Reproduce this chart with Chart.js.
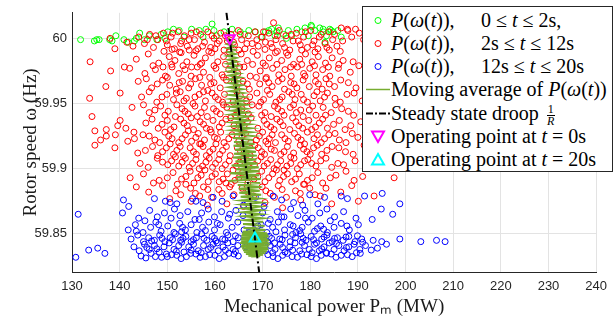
<!DOCTYPE html>
<html>
<head>
<meta charset="utf-8">
<script src="https://cdn.jsdelivr.net/npm/chart.js@4"></script>
<style>
body{margin:0;background:#fff;}
#wrap{position:relative;width:614px;height:322px;}
#legend{position:absolute;left:362px;top:6px;width:249px;height:164px;border:1px solid #262626;background:#fff;font-family:"Liberation Serif",serif;font-size:20px;color:#000;}
#legend .row{position:absolute;left:0;height:23px;line-height:23px;white-space:nowrap;}
#legend svg{position:absolute;left:2px;top:0;}
#legend .txt{position:absolute;left:28px;top:0;}
#legend .col2{position:absolute;left:118px;top:0;}
.frac{display:inline-block;vertical-align:middle;text-align:center;font-size:12px;line-height:11px;margin-left:3px;}
.frac span{display:block;}
.frac .num{border-bottom:1px solid #000;padding:0 1px;}
</style>
</head>
<body>
<div id="wrap">
<canvas id="c" width="614" height="322"></canvas>
<div id="legend"></div>
</div>
<script>
// tick values
let xTicks=[130,140,150,160,170,180,190,200,210,220,230,240];
let yTicks=[59.85,59.9,59.95,60];

// P(w(t)) 0<=t<=2s
let greenPts=[[131.8,59.999],[135.2,59.999],[134.7,59.998],[135.7,59.999],[139.2,60.002],[137.9,59.999],[138.4,59.998],
[140.9,59.999],[141.8,59.997],[143.1,59.998],[143.5,60.0],[144.2,60.004],[145.2,59.999],[146.2,60.002],
[147.8,59.999],[148.7,60.003],[150.1,60.005],[151.3,60.007],[152.5,60.006],[153.5,60.001],[155.1,60.007],[156.7,60.006],
[158.1,60.007],[159.4,60.011],[159.8,60.006],[161.9,60.005],[163.6,60.007],[165.3,60.005],[167.1,60.006],[168.5,60.005],
[170.6,60.005],[171.9,60.007],[172.6,60.002],[171.3,60.006],[173.0,60.005],[173.3,60.008],[174.4,60.003],[175.4,60.006],
[176.1,60.002],[177.2,60.007],[178.2,60.005],[178.9,60.008],[179.6,60.002],[180.3,60.009],[181.0,60.006],[182.0,60.008],
[182.7,60.005],[183.4,60.002],[184.1,60.007],[184.8,60.005],[185.8,60.006],[186.5,60.001],[183.1,59.997],[180.2,60.010],
[182.7,60.007],[184.4,60.006],[157.5,60.001],[160.3,60.002],[166.2,60.003],[169.7,60.001],[175.0,60.0],[149.5,60.0]];

// P(w(t)) 2s<=t<=12s
let redPts=[[141.5,59.997],[142.8,59.994],[144.0,60.001],[145.2,59.996],[146.3,60.003],[147.1,59.993],[148.0,59.999],[149.2,60.004],
[150.0,59.995],[150.8,60.001],[151.5,59.992],[152.3,60.005],[153.0,59.998],[153.6,60.002],[154.2,59.994],[155.0,60.004],
[155.7,59.999],[156.4,59.992],[157.0,60.003],[157.8,59.997],[158.5,60.005],[159.1,59.993],[159.8,60.0],[160.5,59.996],
[161.2,60.004],[161.9,59.991],[162.6,59.998],[163.4,60.003],[164.1,59.995],[164.9,60.006],[165.6,59.999],[166.3,59.992],
[167.0,60.002],[167.8,59.996],[168.4,60.005],[169.1,59.994],[169.9,60.001],[170.6,59.997],[171.3,60.004],[172.0,59.993],
[172.8,59.999],[173.5,60.006],[174.2,59.996],[174.9,60.002],[175.7,59.991],[176.4,59.998],[177.1,60.004],[177.9,59.995],
[178.6,60.001],[179.4,59.993],[180.1,60.006],[180.8,59.998],[181.6,59.992],[182.3,60.003],[183.1,59.996],[183.9,60.005],
[184.7,59.999],[185.6,59.994],[186.5,60.008],[187.9,60.006],[189.5,60.007],[191.2,59.999],[172.3,60.012],[187.8,60.007],
[145.8,59.999],[147.6,60.002],[149.8,59.998],[151.1,60.004],[152.8,59.996],[154.6,59.999],[156.1,60.005],[157.4,59.994],
[159.4,60.002],[160.9,59.998],[162.2,60.002],[163.9,59.997],[165.3,60.003],[166.7,59.996],[168.8,59.999],[170.2,60.005],
[171.7,59.996],[173.1,60.002],[174.6,59.993],[176.0,60.003],[177.5,59.998],[179.0,60.005],[180.5,59.995],[181.9,60.001],
[183.5,59.993],[185.1,60.003],[186.8,59.998],[188.7,60.001],[190.3,60.004],[139.0,59.992],[138.0,60.0],
[149.3,59.990],[151.0,59.9915],[152.6,59.9895],[154.6,59.991],[156.0,59.9905],[158.7,59.990],[160.0,59.992],[163.0,59.9895],
[165.0,59.991],[168.0,59.990],[170.5,59.9915],[173.1,59.990],[175.0,59.989],[178.2,59.991],[181.0,59.9895],[184.0,59.991],[186.3,59.990],
[143.5,59.984],[146.0,59.988],[148.2,59.981],[150.4,59.986],[151.6,59.983],[152.9,59.989],[154.1,59.982],[155.6,59.987],
[156.9,59.980],[158.0,59.985],[159.3,59.989],[160.6,59.982],[161.8,59.986],[164.2,59.981],[165.5,59.988],[166.8,59.983],
[168.9,59.987],[170.1,59.981],[171.4,59.985],[172.7,59.989],[174.0,59.983],[175.3,59.987],[176.5,59.980],[177.8,59.984],
[179.0,59.988],[180.4,59.982],[181.7,59.986],[183.2,59.981],[184.6,59.985],[186.9,59.983],[133.8,59.982],[141.0,59.978],
[147.0,59.979],[149.1,59.978],[150.9,59.980],[153.3,59.979],[155.1,59.978],[157.2,59.981],[159.8,59.979],[162.2,59.980],
[165.2,59.978],[167.9,59.980],[170.6,59.979],[173.0,59.980],[175.9,59.978],[178.2,59.980],[180.9,59.979],[183.8,59.978],
[186.0,59.980],[189.0,59.982],
[138.1,59.975],[142.1,59.977],[145.3,59.973],[147.5,59.976],[149.6,59.971],[151.0,59.978],[152.4,59.973],[153.7,59.976],
[155.0,59.971],[156.3,59.978],[157.6,59.974],[158.9,59.970],[160.2,59.977],[161.5,59.972],[162.9,59.976],[164.8,59.973],
[166.1,59.978],[167.4,59.971],[169.5,59.975],[170.8,59.970],[172.1,59.977],[173.4,59.972],[174.7,59.976],[176.0,59.971],
[177.3,59.978],[178.6,59.973],[179.9,59.977],[181.2,59.972],[182.6,59.976],[184.1,59.971],[185.9,59.977],[188.4,59.974],[190.2,59.979],
[145.6,59.969],[147.9,59.965],[150.0,59.970],[152.5,59.966],[154.9,59.965],[156.8,59.970],[159.1,59.965],[161.8,59.970],
[164.0,59.968],[166.8,59.965],[168.7,59.970],[171.3,59.966],[174.1,59.969],[176.6,59.965],[178.9,59.971],[181.7,59.965],
[183.3,59.969],[185.1,59.963],[188.0,59.966],
[137.1,59.963],[143.9,59.967],[146.7,59.962],[149.0,59.968],[150.5,59.964],[151.9,59.961],[153.2,59.967],[154.5,59.962],
[155.9,59.969],[157.2,59.964],[158.5,59.960],[159.8,59.966],[161.1,59.962],[162.4,59.968],[164.5,59.963],[165.9,59.967],
[167.2,59.961],[169.4,59.965],[170.7,59.969],[172.0,59.963],[173.3,59.967],[174.6,59.961],[175.9,59.966],[177.2,59.962],
[178.5,59.968],[179.8,59.963],[181.1,59.967],[182.5,59.961],[184.0,59.965],[186.4,59.968],[189.6,59.962],[191.8,59.966],
[146.2,59.959],[148.9,59.955],[151.9,59.958],[153.5,59.952],[155.8,59.955],[157.6,59.959],[160.1,59.955],[161.6,59.951],
[164.6,59.959],[167.3,59.955],[169.6,59.951],[171.0,59.960],[173.6,59.953],[176.2,59.957],[178.6,59.953],[181.4,59.959],
[183.0,59.955],[186.3,59.951],[189.2,59.958],
[133.7,59.954],[140.1,59.958],[144.6,59.955],[147.8,59.951],[149.9,59.957],[151.3,59.953],[152.7,59.959],[154.0,59.954],
[155.4,59.950],[156.7,59.957],[158.0,59.952],[159.4,59.958],[160.7,59.953],[162.0,59.957],[163.8,59.951],[165.3,59.956],
[166.6,59.952],[168.8,59.958],[170.2,59.953],[171.5,59.957],[172.8,59.951],[174.1,59.955],[175.5,59.959],[176.8,59.953],
[178.1,59.957],[179.4,59.951],[180.8,59.956],[182.1,59.952],[183.6,59.958],[185.2,59.954],[187.7,59.957],[190.9,59.952],[193.4,59.955],
[145.0,59.949],[147.4,59.945],[149.5,59.941],[152.0,59.949],[153.7,59.944],[156.3,59.940],[157.8,59.947],[160.3,59.944],
[161.8,59.949],[164.9,59.944],[167.8,59.949],[169.8,59.941],[172.5,59.948],[174.0,59.944],[176.5,59.949],[178.0,59.945],
[180.5,59.948],[183.2,59.941],[185.3,59.949],[188.0,59.944],
[134.2,59.940],[140.1,59.937],[142.6,59.947],[146.2,59.943],[148.6,59.948],[150.2,59.944],[151.7,59.940],[153.1,59.946],
[154.4,59.942],[155.8,59.948],[157.1,59.943],[158.4,59.940],[159.7,59.946],[161.1,59.942],[162.5,59.947],[164.3,59.941],
[165.7,59.946],[167.0,59.942],[169.2,59.948],[170.5,59.943],[171.8,59.940],[173.2,59.946],[174.5,59.941],[175.8,59.947],
[177.1,59.943],[178.5,59.940],[179.8,59.945],[181.2,59.941],[182.7,59.947],[184.4,59.943],[186.6,59.946],[189.1,59.941],[192.5,59.944],
[141.3,59.931],[146.8,59.938],[148.9,59.934],[150.7,59.930],[153.5,59.935],[155.0,59.939],[157.6,59.934],[159.0,59.930],
[161.5,59.935],[163.3,59.939],[166.1,59.933],[167.6,59.939],[170.9,59.934],[172.4,59.930],[173.7,59.936],[176.3,59.939],
[177.6,59.933],[180.3,59.930],[181.9,59.935],[183.6,59.931],[186.1,59.937],[188.5,59.933],
[134.8,59.929],[137.2,59.930],[139.6,59.933],[143.0,59.928],[145.5,59.935],[148.1,59.931],[150.0,59.937],[151.4,59.932],
[152.8,59.938],[154.2,59.933],[155.5,59.930],[156.9,59.936],[158.2,59.931],[159.6,59.937],[160.9,59.932],[162.3,59.938],
[164.0,59.933],[165.4,59.930],[166.8,59.936],[169.0,59.931],[170.3,59.937],[171.7,59.932],[173.0,59.938],[174.3,59.933],
[175.7,59.930],[177.0,59.936],[178.4,59.931],[179.7,59.937],[181.1,59.932],[182.6,59.938],[184.9,59.934],[187.3,59.930],
[190.6,59.936],[194.2,59.932],
[139.1,59.926],[143.1,59.923],[146.2,59.925],[148.4,59.920],[150.3,59.925],[153.1,59.923],[154.4,59.929],[156.0,59.924],
[157.1,59.919],[159.9,59.924],[161.2,59.928],[162.9,59.923],[165.7,59.925],[167.5,59.920],[169.3,59.925],[170.7,59.921],
[172.0,59.926],[174.7,59.923],[177.4,59.924],[178.8,59.919],[181.5,59.926],[183.0,59.923],[185.2,59.927],[187.5,59.920],[190.0,59.924],
[134.8,59.918],[136.0,59.922],[137.2,59.925],[141.7,59.921],[144.9,59.926],[147.4,59.922],[149.5,59.928],[151.0,59.923],
[152.4,59.920],[153.8,59.926],[155.1,59.921],[156.5,59.927],[157.8,59.922],[159.2,59.928],[160.5,59.923],[161.9,59.920],
[163.6,59.926],[165.0,59.921],[166.4,59.927],[168.7,59.922],[170.0,59.928],[171.4,59.923],[172.7,59.920],[174.0,59.926],
[175.4,59.921],[176.7,59.927],[178.1,59.922],[179.4,59.928],[180.8,59.923],[182.3,59.920],[183.9,59.926],[186.1,59.922],
[188.8,59.927],[192.0,59.921],
[145.4,59.914],[148.0,59.910],[149.8,59.916],[151.3,59.911],[152.7,59.917],[155.5,59.913],[156.8,59.919],[158.2,59.910],
[159.6,59.915],[161.0,59.911],[162.4,59.917],[165.4,59.913],[167.4,59.910],[169.1,59.916],[170.4,59.911],[171.8,59.915],
[174.5,59.913],[175.9,59.909],[178.6,59.915],[180.0,59.911],[181.5,59.918],[183.5,59.914],[186.0,59.916],[189.0,59.911],
[139.0,59.916],[143.8,59.912],[146.9,59.917],[149.0,59.913],[150.6,59.919],[152.0,59.914],[153.4,59.910],[154.8,59.916],
[156.1,59.911],[157.5,59.917],[158.9,59.913],[160.2,59.919],[161.6,59.914],[163.2,59.910],[164.7,59.916],[166.1,59.912],
[168.4,59.918],[169.8,59.913],[171.1,59.919],[172.5,59.914],[173.8,59.911],[175.2,59.917],[176.5,59.912],[177.9,59.918],
[179.3,59.913],[180.7,59.916],[182.4,59.911],[184.6,59.917],[187.4,59.913],[191.3,59.918],[195.6,59.914],
[146.0,59.901],[149.0,59.905],[150.9,59.906],[152.4,59.902],[153.8,59.908],[155.3,59.904],[156.7,59.900],[158.1,59.905],
[159.5,59.901],[160.8,59.907],[162.2,59.903],[163.8,59.899],[165.2,59.905],[167.0,59.901],[169.0,59.906],[170.3,59.902],
[171.7,59.907],[173.1,59.903],[174.5,59.899],[175.9,59.904],[177.3,59.900],[178.8,59.906],[180.3,59.904],[182.2,59.906],
[184.5,59.901],[187.0,59.903],
[144.3,59.904],[147.9,59.908],[150.1,59.903],[151.7,59.909],[153.1,59.905],[154.6,59.901],[156.0,59.907],[157.4,59.902],
[158.8,59.908],[160.1,59.904],[161.5,59.900],[163.0,59.906],[164.5,59.902],[166.0,59.908],[168.3,59.903],[169.7,59.909],
[171.0,59.904],[172.4,59.900],[173.8,59.906],[175.1,59.902],[176.6,59.908],[178.0,59.903],[179.5,59.907],[181.2,59.902],
[183.3,59.908],[185.8,59.904],[189.4,59.906],[193.7,59.901],
[147.1,59.889],[150.0,59.893],[152.1,59.888],[153.9,59.894],[155.6,59.889],[157.1,59.895],[158.6,59.890],[160.1,59.896],
[161.7,59.892],[163.4,59.888],[165.0,59.893],[166.9,59.889],[169.0,59.894],[170.5,59.890],[172.1,59.896],[173.6,59.891],
[175.2,59.896],[176.9,59.892],[178.6,59.888],[180.4,59.893],[182.6,59.889],[185.4,59.895],[189.2,59.891],
[142.2,59.893],[145.0,59.896],[148.3,59.891],[151.2,59.897],[153.0,59.892],[154.8,59.898],[156.4,59.893],[157.9,59.899],
[159.4,59.894],[160.9,59.890],[162.6,59.896],[164.2,59.891],[165.8,59.897],[168.2,59.892],[169.8,59.898],[171.3,59.893],
[172.9,59.899],[174.4,59.894],[176.1,59.890],[177.7,59.896],[179.4,59.891],[181.6,59.897],[184.2,59.893],[187.5,59.898],
[191.0,59.894],[197.6,59.893],
[152.8,59.880],[154.9,59.885],[156.8,59.879],[158.5,59.884],[161.5,59.881],[163.1,59.886],[166.9,59.882],[170.7,59.883],
[172.5,59.878],[174.1,59.884],[177.9,59.881],[179.9,59.885],[182.1,59.879],
[143.5,59.886],[146.1,59.882],[149.0,59.887],[151.8,59.883],[153.9,59.888],[155.9,59.881],[157.6,59.886],[159.3,59.878],
[160.8,59.884],[162.3,59.889],[164.0,59.880],[165.7,59.885],[168.1,59.879],[169.9,59.886],[171.6,59.881],[173.3,59.887],
[175.0,59.878],[176.9,59.883],[178.8,59.888],[181.0,59.880],[183.3,59.885],[186.4,59.882],[188.7,59.887],[162.5,59.873],
[166.0,59.871],[170.5,59.874],[174.2,59.870],[158.4,59.872],[178.0,59.876],[155.0,59.875],[150.5,59.877],[190.1,59.875],
[184.5,59.873],[193.4,59.879]];

// P(w(t)) 12s<=t<=20s
let bluePts=[[140.8,59.876],[141.9,59.871],[147.3,59.877],[149.6,59.875],[150.6,59.874],[152.0,59.873],[155.3,59.877],[156.0,59.875],
[157.5,59.874],[159.6,59.878],[161.5,59.875],[163.8,59.879],[172.2,59.879],[174.0,59.876],[176.5,59.874],[179.9,59.880],
[183.0,59.878],[186.5,59.879],[187.8,59.877],[191.4,59.879],[195.1,59.881],[198.8,59.873],[178.4,59.872],[181.6,59.873],
[168.5,59.878],[170.3,59.871],[166.0,59.872],
[131.3,59.865],[140.6,59.866],[144.0,59.862],[146.3,59.868],[147.9,59.863],[149.4,59.866],[151.5,59.869],[152.7,59.864],
[154.3,59.867],[155.8,59.861],[157.2,59.866],[158.6,59.869],[159.9,59.863],[161.4,59.867],[162.8,59.862],[164.4,59.868],
[165.9,59.864],[170.0,59.866],[171.6,59.861],[173.1,59.867],[174.5,59.863],[175.9,59.869],[177.4,59.864],[178.9,59.868],
[180.4,59.862],[182.0,59.866],[183.5,59.869],[185.1,59.863],[187.0,59.867],[189.6,59.862],[193.0,59.861],[194.9,59.869],[197.3,59.865],
[145.3,59.860],[148.2,59.857],[150.8,59.862],[153.2,59.855],[156.7,59.861],[160.5,59.858],[163.1,59.865],[171.2,59.858],
[174.0,59.863],[176.4,59.856],[179.0,59.862],[181.5,59.854],[184.2,59.860],[187.7,59.856],[143.5,59.852],[153.0,59.8515],
[158.0,59.8525],[172.8,59.8515],[177.8,59.8525],[182.8,59.8535],
[141.8,59.853],[143.3,59.857],[144.9,59.851],[146.5,59.855],[147.6,59.859],[148.7,59.852],[150.1,59.856],[151.4,59.851],
[152.6,59.858],[153.8,59.853],[155.0,59.857],[156.2,59.851],[157.4,59.855],[158.7,59.859],[159.9,59.853],[161.1,59.857],
[162.4,59.851],[163.6,59.855],[164.8,59.859],[166.1,59.853],[169.7,59.857],[170.9,59.851],[172.1,59.855],[173.3,59.859],
[174.6,59.853],[175.8,59.857],[177.0,59.851],[178.3,59.855],[179.6,59.859],[180.9,59.852],[182.2,59.856],[183.6,59.851],
[185.0,59.855],[186.5,59.858],[188.2,59.853],[190.1,59.857],
[142.4,59.846],[143.8,59.849],[145.0,59.844],[146.1,59.847],[147.3,59.845],[148.4,59.849],[149.5,59.844],[150.6,59.847],
[151.7,59.850],[152.8,59.845],[153.9,59.848],[155.0,59.844],[156.1,59.847],[157.2,59.850],[158.3,59.845],[159.4,59.848],
[160.5,59.843],[161.6,59.846],[162.7,59.849],[163.8,59.844],[164.9,59.847],[170.3,59.845],[171.4,59.848],[172.5,59.843],
[173.6,59.846],[174.7,59.849],[175.8,59.844],[176.9,59.847],[178.0,59.850],[179.1,59.845],[180.2,59.848],[181.3,59.843],
[182.4,59.846],[183.5,59.849],[184.6,59.844],[185.7,59.847],[186.9,59.845],[188.1,59.848],[189.4,59.844],[190.8,59.846],
[193.2,59.845],[195.0,59.844],[198.8,59.846],[203.2,59.844],[206.5,59.845],[208.3,59.844],
[146.7,59.8445],[148.9,59.8465],[151.1,59.8455],[153.3,59.8465],[155.5,59.8455],[157.7,59.8465],[159.9,59.8465],[162.1,59.8455],
[164.3,59.8485],[171.9,59.8465],[174.1,59.8455],[176.3,59.8495],[178.5,59.8465],[180.7,59.8455],[182.9,59.8475],[185.1,59.8465],
[187.5,59.8475],[189.9,59.8485],
[143.0,59.840],[144.1,59.837],[145.2,59.842],[146.2,59.838],[147.3,59.841],[148.3,59.836],[149.3,59.840],[150.4,59.843],
[151.4,59.838],[152.4,59.841],[153.5,59.836],[154.5,59.840],[155.5,59.842],[156.5,59.837],[157.6,59.841],[158.6,59.838],
[159.6,59.842],[160.7,59.837],[161.7,59.840],[162.7,59.843],[163.8,59.838],[164.8,59.841],[170.6,59.837],[171.6,59.841],
[172.6,59.838],[173.7,59.842],[174.7,59.836],[175.7,59.840],[176.8,59.843],[177.8,59.837],[178.8,59.841],[179.8,59.838],
[180.9,59.842],[181.9,59.837],[182.9,59.840],[184.0,59.843],[185.0,59.838],[186.0,59.841],[187.1,59.837],[188.1,59.840],
[189.2,59.842],[190.4,59.838],[191.6,59.841],[194.1,59.839],[196.0,59.842],[133.5,59.8375],[135.4,59.839],[136.9,59.835],
[145.7,59.8395],[147.8,59.8385],[149.8,59.8345],[151.9,59.8365],[153.0,59.8435],[155.0,59.8375],[157.1,59.8355],[159.1,59.8395],
[160.2,59.8445],[162.2,59.8375],[164.3,59.8365],[171.1,59.8435],[172.1,59.8355],[174.2,59.8395],[176.3,59.8375],[178.3,59.8435],
[180.4,59.8355],[182.4,59.8385],[183.4,59.8355],[185.5,59.8425],[187.6,59.8395],[189.7,59.8355],[191.0,59.8435],[192.8,59.8375],
[130.8,59.832],[144.5,59.833],[146.6,59.835],[148.8,59.832],[150.9,59.834],[152.9,59.831],[154.9,59.835],[156.9,59.832],
[158.9,59.834],[160.9,59.831],[162.9,59.835],[164.9,59.833],[171.1,59.834],[173.2,59.831],[175.2,59.835],[177.3,59.832],
[179.3,59.834],[181.3,59.831],[183.4,59.835],[185.4,59.832],[187.8,59.834],[190.5,59.835],
[150.0,59.8325],[152.0,59.8335],[154.0,59.8325],[156.0,59.8345],[158.0,59.8325],[160.0,59.8335],[162.0,59.8325],[164.0,59.8345],
[172.2,59.8325],[174.2,59.8335],[176.2,59.8325],[178.2,59.8345],[180.2,59.8325],[182.3,59.8335],[184.4,59.8345],[186.5,59.8335],
[188.8,59.8325],[145.5,59.8315],[147.5,59.8325],
[166.5,59.840],[167.8,59.845],[168.9,59.838],[167.2,59.851],[169.0,59.856]];

// moving average of P(w(t))
let movingAvg=[[163.1,60.0],[162.5,59.9985],[163.9,59.997],[162.6,59.9955],[164.0,59.994],[162.6,59.9925],[164.2,59.991],[162.7,59.9895],
[164.3,59.988],[162.6,59.9865],[164.5,59.985],[162.8,59.9835],[164.6,59.982],[162.7,59.9805],[164.8,59.979],[162.9,59.9775],
[164.9,59.976],[162.8,59.9745],[165.1,59.973],[163.0,59.9715],[165.3,59.970],[162.9,59.9685],[165.4,59.967],[163.1,59.9655],
[165.6,59.964],[163.0,59.9625],[165.8,59.961],[163.2,59.9595],[165.9,59.958],[163.1,59.9565],[166.1,59.955],[163.3,59.9535],
[166.3,59.952],[163.2,59.9505],[166.6,59.949],[163.4,59.9475],[166.5,59.946],[163.5,59.9445],[166.8,59.943],[163.4,59.9415],
[167.0,59.940],[163.7,59.9385],[167.1,59.937],[163.6,59.9355],[167.3,59.934],[163.8,59.9325],[167.5,59.931],[163.7,59.9295],
[167.6,59.928],[163.9,59.9265],[167.9,59.925],[163.8,59.9235],[168.0,59.922],[164.0,59.9205],[168.3,59.919],[163.9,59.9175],
[168.4,59.916],[164.2,59.9145],[168.6,59.913],[164.0,59.9115],[168.8,59.910],[163.8,59.9085],[168.7,59.907],[164.3,59.9055],
[169.0,59.904],[163.5,59.9025],[169.2,59.901],[164.4,59.8995],[169.4,59.898],[163.2,59.8965],[169.3,59.895],[164.5,59.8935],
[169.6,59.892],[162.8,59.8905],[169.5,59.889],[164.8,59.8875],[169.8,59.886],[165.0,59.8845],[169.4,59.883],[165.1,59.8815],
[169.7,59.880],[165.4,59.8785],[169.3,59.877],[165.5,59.8755],[169.6,59.874],[165.7,59.8725],[169.5,59.871],[165.8,59.8695],
[169.8,59.868],[165.9,59.8665],[169.7,59.865],[166.0,59.8635],[170.0,59.862],[166.1,59.8605],[170.1,59.859],[165.9,59.8575],
[170.4,59.856],[166.0,59.8545],[170.6,59.853],[165.8,59.8515],[170.9,59.8505],[165.7,59.850],[171.1,59.8493],[165.5,59.8486],
[171.3,59.8479],[165.6,59.8472],[171.0,59.8465],[165.4,59.8458],[171.4,59.8451],[165.5,59.8444],[171.2,59.8437],[165.3,59.843],
[171.5,59.8423],[165.6,59.8416],[171.3,59.8409],[165.4,59.8402],[171.1,59.8395],[165.7,59.8388],[171.2,59.8381],[165.9,59.8374],
[170.9,59.8367],[166.1,59.836],[170.6,59.8353],[166.5,59.8346],[170.1,59.8339],[167.0,59.8332],[169.5,59.8328],[167.6,59.8325],[168.9,59.833]];

// steady state droop 1/R
let droopLine=[[162.4,60.02],[169.3,59.82]];
let opStart=[[163.1,60.0]];
let opEnd=[[168.4,59.8465]];

function pts(a){return a.map(p=>({x:p[0],y:p[1]}));}

let ctx=document.getElementById('c').getContext('2d');
let chart=new Chart(ctx,{
  type:'scatter',
  data:{datasets:[
    {data:pts(greenPts),borderColor:'#00ff00',backgroundColor:'rgba(0,0,0,0)',pointRadius:3,borderWidth:1,order:7},
    {data:pts(redPts),borderColor:'#ff0000',backgroundColor:'rgba(0,0,0,0)',pointRadius:3,borderWidth:1,order:6},
    {data:pts(bluePts),borderColor:'#0000ff',backgroundColor:'rgba(0,0,0,0)',pointRadius:3,borderWidth:1,order:5},
    {data:pts(movingAvg),showLine:true,borderColor:'#77ac30',borderWidth:2,pointRadius:0,order:4},
    {data:pts(droopLine),showLine:true,borderColor:'#000',borderWidth:2,borderDash:[8,3,2,3],pointRadius:0,order:3},
    {data:pts(opStart),pointStyle:'triangle',rotation:180,pointRadius:6,borderColor:'#ff00ff',backgroundColor:'rgba(0,0,0,0)',borderWidth:2,order:2},
    {data:pts(opEnd),pointStyle:'triangle',pointRadius:6,borderColor:'#00ffff',backgroundColor:'rgba(0,0,0,0)',borderWidth:2,order:1}
  ]},
  options:{
    responsive:false,animation:false,
    layout:{padding:{left:0,top:7,right:14,bottom:0}},
    plugins:{legend:{display:false},tooltip:{enabled:false}},
    scales:{
      x:{type:'linear',min:130,max:240,
        afterFit:s=>{s.height=50;},
        afterBuildTicks:s=>{s.ticks=xTicks.map(v=>({value:v}));},
        grid:{color:'#e3e3e3',drawTicks:false},
        border:{color:'#262626'},
        ticks:{color:'#262626',font:{family:'"Liberation Sans",Arial,sans-serif',size:13},padding:7,maxRotation:0,callback:v=>String(v)},
        title:{display:true,text:'Mechanical power Pₘ (MW)',color:'#1a1a1a',font:{family:'"Liberation Serif",serif',size:19,weight:'normal'},padding:{top:0,bottom:4}}
      },
      y:{type:'linear',min:59.8207,max:60.0196,
        afterFit:s=>{s.width=72;},
        afterBuildTicks:s=>{s.ticks=yTicks.map(v=>({value:v}));},
        grid:{color:'#e3e3e3',drawTicks:false},
        border:{color:'#262626'},
        ticks:{color:'#262626',font:{family:'"Liberation Sans",Arial,sans-serif',size:13},padding:5,callback:v=>String(v)},
        title:{display:true,text:'Rotor speed ω (Hz)',color:'#1a1a1a',font:{family:'"Liberation Serif",serif',size:19,weight:'normal'},padding:{top:20,bottom:0}}
      }
    }
  }
});

// Legend
function circleIcon(c){return '<svg width="26" height="23"><circle cx="13" cy="11.5" r="3" fill="none" stroke="'+c+'" stroke-width="1"/></svg>';}
let legendRows=[
  {icon:circleIcon('#00ff00'),txt:'<i>P</i>(<i>ω</i>(<i>t</i>)),',col2:'0 ≤ <i>t</i> ≤ 2s,'},
  {icon:circleIcon('#ff0000'),txt:'<i>P</i>(<i>ω</i>(<i>t</i>)),',col2:'2s ≤ <i>t</i> ≤ 12s'},
  {icon:circleIcon('#0000ff'),txt:'<i>P</i>(<i>ω</i>(<i>t</i>)),',col2:'12s ≤ <i>t</i> ≤ 20s'},
  {icon:'<svg width="26" height="23"><line x1="1" y1="11.5" x2="25" y2="11.5" stroke="#77ac30" stroke-width="1.5"/></svg>',txt:'Moving average of <i>P</i>(<i>ω</i>(<i>t</i>))'},
  {icon:'<svg width="26" height="23"><line x1="1" y1="11.5" x2="25" y2="11.5" stroke="#000" stroke-width="2" stroke-dasharray="7,2,2,2"/></svg>',txt:'Steady state droop <span class="frac"><span class="num">1</span><span><i>R</i></span></span>'},
  {icon:'<svg width="26" height="23"><polygon points="7,6.5 19,6.5 13,17" fill="none" stroke="#ff00ff" stroke-width="2"/></svg>',txt:'Operating point at <i>t</i> = 0s'},
  {icon:'<svg width="26" height="23"><polygon points="7,16.5 19,16.5 13,6" fill="none" stroke="#00ffff" stroke-width="2"/></svg>',txt:'Operating point at <i>t</i> = 20s'}
];
let leg=document.getElementById('legend');
legendRows.forEach((r,i)=>{
  let d=document.createElement('div');
  d.className='row';
  d.style.top=(1.5+i*23.3)+'px';
  d.innerHTML=r.icon+'<span class="txt">'+r.txt+'</span>'+(r.col2?'<span class="col2">'+r.col2+'</span>':'');
  leg.appendChild(d);
});
</script>
</body>
</html>
